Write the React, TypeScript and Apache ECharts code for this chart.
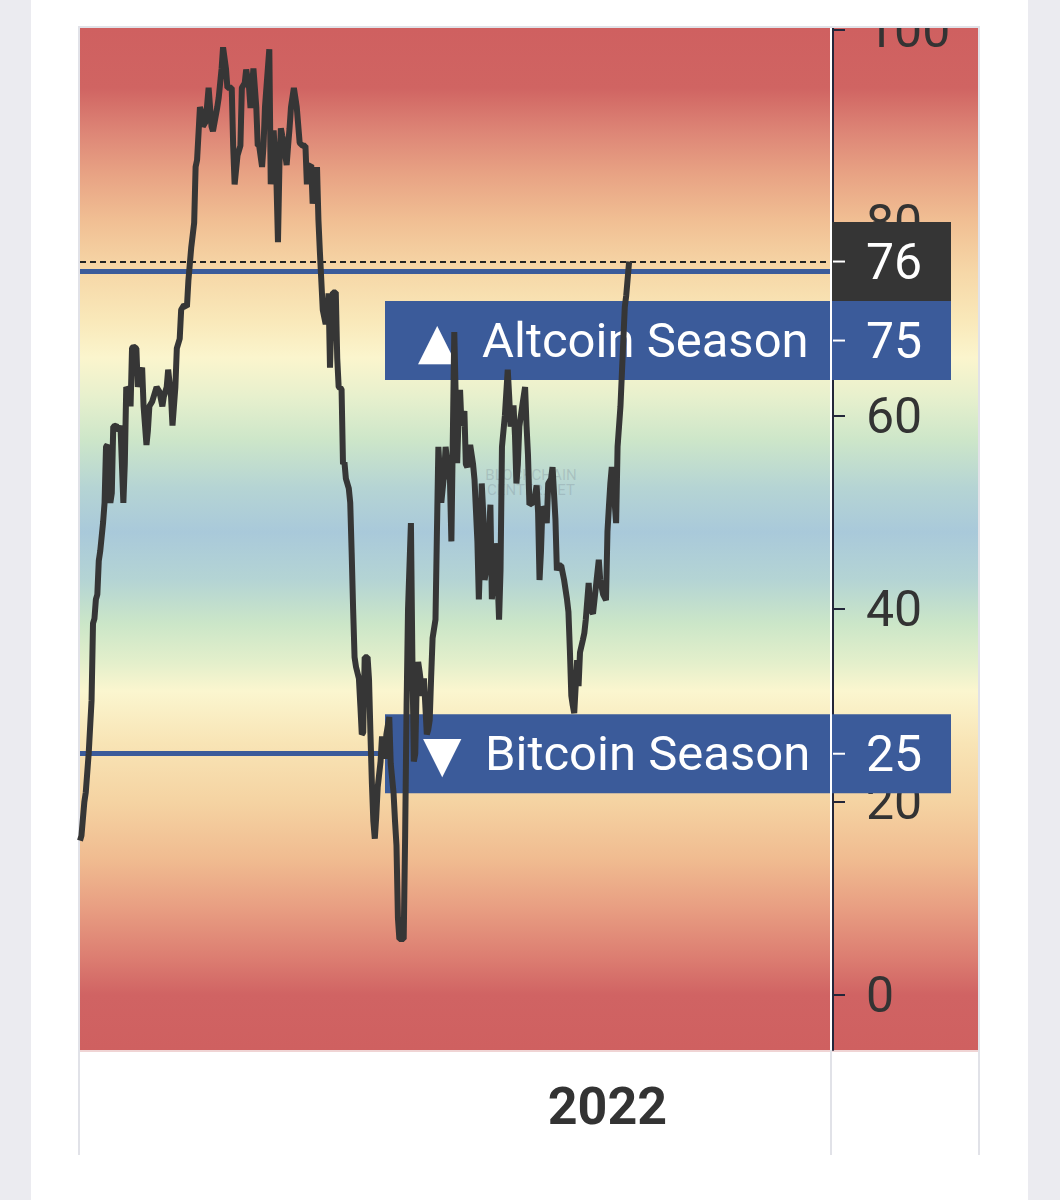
import React, { useEffect, useRef } from "react";
import * as echarts from "echarts";

// ---------- DATA ----------
// Day offsets are counted from 2021-01-01.
const START_DATE = Date.UTC(2021, 0, 1);
const DAY_MS = 86400000;
const AXIS_SPAN_DAYS = 519;

// Altcoin Season Index: [day offset, value]
const altSeasonIndex: [number, number][] = [
  [0, 16], [1, 16.5], [3, 20], [4, 21], [6, 25], [8, 30.5], [9, 38.5], [10, 39], [11, 41], [12, 41.5],
  [13, 45], [14, 46], [16, 49], [17, 51], [18, 56.8], [19, 57], [21, 51], [22, 52], [23, 58.9], [25, 59],
  [27, 58.5], [28, 59], [30, 51], [31, 55], [32, 63], [34, 62.5], [35, 61], [36, 67], [37, 67.2], [39, 67],
  [40, 63], [41, 64], [43, 65], [44, 61], [46, 57], [47, 58.5], [48, 61], [50, 61.5], [53, 63], [55, 62.5],
  [57, 61], [58, 62], [60, 63], [61, 64.8], [63, 62], [64, 59], [66, 63], [67, 67], [69, 68], [70, 71],
  [72, 71.5], [74, 71.3], [75, 74], [77, 77.5], [79, 80], [80, 85.8], [81, 86.5], [83, 92], [84, 91.5], [85, 90],
  [87, 90.5], [89, 94], [91, 90], [92, 89.5], [95, 92], [96, 93], [98, 96], [99, 98.2], [101, 96], [102, 94],
  [105, 94], [106, 88], [107, 84], [109, 87], [111, 88], [112, 94], [114, 94.5], [115, 95.9], [117, 94], [118, 91.9],
  [119, 94], [120, 96], [122, 92], [123, 88], [124, 88], [126, 85.8], [127, 88], [128, 92], [129, 94], [131, 98],
  [132, 84], [133, 87], [134, 89.6], [136, 84], [137, 78], [138, 86], [139, 89.8], [140, 89], [141, 88.3], [143, 86],
  [144, 88], [145, 89.8], [146, 92], [148, 94], [149, 93], [150, 92], [152, 88.3], [154, 88], [156, 88], [157, 84],
  [158, 85.8], [160, 86], [161, 82], [163, 84], [164, 85.8], [165, 80.3], [166, 77], [167, 74], [168, 71], [170, 69.5],
  [171, 70.5], [172, 72.7], [173, 65], [174, 70], [175, 72.8], [177, 72.8], [178, 66], [179, 63], [181, 62.8], [182, 55],
  [183, 55.2], [184, 53.5], [186, 52.5], [187, 51], [188, 45.8], [189, 40], [190, 35], [191, 34], [193, 32.8], [194, 30],
  [195, 27], [196, 27.2], [197, 35], [199, 35], [200, 32.7], [201, 27], [202, 21.9], [203, 18], [204, 16.2], [205, 18.5],
  [206, 21.5], [208, 24.2], [209, 26.8], [211, 24.5], [212, 27], [214, 28.8], [215, 24], [217, 20.9], [218, 18], [219, 15.5],
  [220, 8], [221, 5.8], [224, 5.8], [225, 16.5], [226, 30], [227, 40], [229, 48.9], [230, 35], [231, 24.2], [232, 25],
  [233, 32.2], [234, 34.5], [235, 33.5], [237, 31], [238, 32.8], [240, 27], [241, 27.5], [242, 28.5], [243, 33], [244, 37],
  [246, 38.9], [247, 48], [248, 56.8], [249, 54], [250, 51], [252, 54], [253, 56.8], [255, 54], [256, 53.4], [257, 47],
  [259, 68.7], [260, 62], [261, 55.1], [262, 60], [263, 62.7], [264, 59], [266, 60.5], [267, 55], [268, 54.7], [269, 56],
  [270, 57], [272, 55], [273, 53.4], [275, 47], [276, 41], [277, 46], [278, 53], [279, 50], [280, 43], [282, 45],
  [283, 48], [284, 50.8], [285, 41], [286, 43], [287, 46.8], [289, 43], [290, 38.9], [291, 44], [292, 56.8], [294, 60],
  [296, 64.8], [297, 62], [298, 58.9], [299, 60], [300, 61.1], [301, 58], [302, 53], [303, 55], [304, 58.9], [306, 61],
  [308, 63], [309, 59], [310, 56], [311, 50.8], [313, 51], [314, 51], [316, 52.8], [317, 50], [318, 43], [319, 46],
  [320, 50.6], [322, 50], [323, 48.9], [324, 53], [326, 53.5], [327, 54.7], [329, 49.3], [330, 44], [331, 44.5], [333, 44.5],
  [335, 43], [337, 41], [338, 39.7], [339, 35.7], [340, 31], [341, 30], [342, 29.2], [344, 34.7], [345, 32], [346, 35.5],
  [348, 36.8], [349, 37.5], [350, 38.9], [352, 42.7], [353, 40], [355, 39.5], [356, 40.9], [359, 45.1], [360, 43], [362, 41.5],
  [364, 40.9], [365, 48], [366, 50.6], [367, 53], [368, 54.7], [370, 51], [371, 48.9], [372, 56.8], [374, 61], [376, 67.9],
  [377, 71.3], [378, 72.5], [380, 76],
];

const yTickLabels = [0, 20, 40, 60, 80, 100];
const Y_MIN = -5.7;
const Y_MAX = 100.2;
const ALTCOIN_LEVEL = 75;
const BITCOIN_LEVEL = 25;
const ALTCOIN_LABEL = "Altcoin Season";
const BITCOIN_LABEL = "Bitcoin Season";
const UP_MARK = "▲";
const DOWN_MARK = "▼";
const WATERMARK = "BLOCKCHAIN\nCENTER.NET";

// background colour bands by index value
const bgStops: [number, string][] = [
  [100.2, "#cf6060"],
  [94, "#d06462"],
  [89.5, "#dd8576"],
  [85, "#e8a384"],
  [80, "#f1c094"],
  [75, "#f6d7a7"],
  [70, "#f9e8b9"],
  [66, "#fbf5cd"],
  [62, "#e7f0cd"],
  [57.5, "#cde6c9"],
  [52.5, "#b5d4d4"],
  [48, "#a9c9da"],
  [43, "#b4d4d4"],
  [38.5, "#cbe6c8"],
  [34.5, "#e3efcb"],
  [31.5, "#fbf6cf"],
  [26, "#f8e4b5"],
  [20, "#f5d3a2"],
  [14, "#f0bb90"],
  [9, "#e89e82"],
  [3.5, "#db7b70"],
  [0, "#d06363"],
  [-5.7, "#cf6060"],
];

const FONT = "Roboto, 'DejaVu Sans', sans-serif";

export default function App() {
  const ref = useRef<HTMLDivElement>(null);

  useEffect(() => {
    const el = ref.current;
    if (!el) return;
    const chart = echarts.init(el, null, { renderer: "svg", width: 1060, height: 1200 });

    const GL = 80;
    const GR = 830;
    const GT = 28;
    const GB = 1050;
    const PANE_R = 979;
    const AXIS_X = 833;

    const lineData = altSeasonIndex.map(([d, v]) => [START_DATE + d * DAY_MS, v]);
    const lastValue = altSeasonIndex[altSeasonIndex.length - 1][1];

    chart.setOption({
      animation: false,
      backgroundColor: "#ebebf0",
      grid: { left: GL, right: 1060 - GR, top: GT, bottom: 1200 - GB, containLabel: false },
      xAxis: {
        type: "time",
        min: START_DATE,
        max: START_DATE + AXIS_SPAN_DAYS * DAY_MS,
        axisLine: { show: false },
        axisTick: { show: false },
        splitLine: { show: false },
        axisLabel: {
          showMinLabel: false,
          showMaxLabel: false,
          hideOverlap: false,
          formatter: (v: number) => {
            const d = new Date(v);
            return d.getMonth() === 0 && d.getDate() === 1 && d.getFullYear() === 2022
              ? String(d.getFullYear())
              : "";
          },
          color: "#333333",
          fontSize: 52,
          fontWeight: "bold",
          fontFamily: FONT,
          margin: 30,
        },
      },
      yAxis: {
        type: "value",
        position: "right",
        offset: AXIS_X - GR,
        min: Y_MIN,
        max: Y_MAX,
        splitNumber: 5,
        splitLine: { show: false },
        axisLine: { show: true, lineStyle: { color: "#23263a", width: 2 } },
        axisTick: {
          show: true,
          length: 12,
          customValues: yTickLabels,
          lineStyle: { color: "#23263a", width: 2 },
        },
        axisLabel: {
          customValues: yTickLabels,
          formatter: (v: number) => (yTickLabels.includes(v) ? String(v) : ""),
          margin: 33,
          color: "#333333",
          fontSize: 50,
          fontFamily: FONT,
        },
      },
      series: [
        {
          type: "line",
          data: lineData,
          symbol: "none",
          showSymbol: false,
          z: 2,
          lineStyle: { color: "#363636", width: 6 },
          markLine: {
            silent: true,
            symbol: "none",
            z: 0,
            label: { show: false },
            data: [
              { yAxis: ALTCOIN_LEVEL, lineStyle: { color: "#3b5b9a", width: 5, type: "solid" } },
              { yAxis: BITCOIN_LEVEL, lineStyle: { color: "#3b5b9a", width: 5, type: "solid" } },
              { yAxis: lastValue, lineStyle: { color: "#222222", width: 2, type: [6, 4] } },
            ],
          },
        },
      ],
    });

    const py = (v: number) => chart.convertToPixel({ yAxisIndex: 0 }, v) as number;
    const BOX_H = 79;
    const BLUE = "#3b5b9a";
    const DARK = "#353535";
    const LABEL_L = 385;
    const BOX_R = 951;
    const VALUE_TEXT_X = 866;

    const yLast = py(lastValue);
    const topLast = yLast - BOX_H / 2;
    let topAlt = py(ALTCOIN_LEVEL) - BOX_H / 2;
    if (topAlt < topLast + BOX_H) topAlt = topLast + BOX_H;
    const topBtc = py(BITCOIN_LEVEL) - BOX_H / 2;

    const span = Y_MAX - Y_MIN;
    const gradient = new echarts.graphic.LinearGradient(
      0, 0, 0, 1,
      bgStops.map(([v, c]) => ({ offset: Math.min(1, Math.max(0, (Y_MAX - v) / span)), color: c }))
    );

    const valueBox = (top: number, fill: string, text: string) => [
      { type: "rect", shape: { x: AXIS_X - 1, y: top, width: BOX_R - AXIS_X + 1, height: BOX_H }, style: { fill }, z: 1, silent: true },
      { type: "line", shape: { x1: AXIS_X, y1: top + BOX_H / 2, x2: AXIS_X + 12, y2: top + BOX_H / 2 }, style: { stroke: "#ffffff", lineWidth: 2 }, z: 1, silent: true },
      { type: "text", x: VALUE_TEXT_X, y: top + BOX_H / 2, style: { text, fill: "#ffffff", fontSize: 50, fontFamily: FONT, align: "left", verticalAlign: "middle" }, z: 1, silent: true },
    ];

    const seasonBox = (top: number, mark: string, markX: number, label: string, labelX: number) => [
      { type: "rect", shape: { x: LABEL_L, y: top, width: GR - LABEL_L, height: BOX_H }, style: { fill: BLUE }, z: 1, silent: true },
      { type: "text", x: markX, y: top + BOX_H / 2, style: { text: mark, fill: "#ffffff", fontSize: 50, fontFamily: "'DejaVu Sans', sans-serif", align: "left", verticalAlign: "middle" }, z: 1, silent: true },
      { type: "text", x: labelX, y: top + BOX_H / 2, style: { text: label, fill: "#ffffff", fontSize: 49, fontFamily: FONT, align: "left", verticalAlign: "middle" }, z: 1, silent: true },
    ];

    const borderStyle = { stroke: "#e1e2e8", lineWidth: 2 };

    chart.setOption({
      graphic: {
        elements: [
          { type: "rect", shape: { x: 31, y: 0, width: 997, height: 1200 }, style: { fill: "#ffffff" }, z: -20, silent: true },
          { type: "rect", shape: { x: GL, y: GT, width: PANE_R - GL, height: GB - GT }, style: { fill: gradient }, z: -10, silent: true },
          { type: "rect", shape: { x: GR, y: GT, width: 2, height: GB - GT }, style: { fill: "#ffffff" }, z: -9, silent: true },
          { type: "line", shape: { x1: GL, y1: GB + 1, x2: PANE_R, y2: GB + 1 }, style: { stroke: "#f0d4d4", lineWidth: 2 }, z: -8, silent: true },
          { type: "line", shape: { x1: GL - 1, y1: GT - 1, x2: GL - 1, y2: 1155 }, style: borderStyle, z: -8, silent: true },
          { type: "line", shape: { x1: GR + 1, y1: GB, x2: GR + 1, y2: 1155 }, style: borderStyle, z: -8, silent: true },
          { type: "line", shape: { x1: PANE_R, y1: GT - 1, x2: PANE_R, y2: 1155 }, style: borderStyle, z: -8, silent: true },
          {
            type: "text", x: 531, y: 482,
            style: { text: WATERMARK, fill: "rgba(110,120,135,0.25)", fontSize: 15, lineHeight: 15, fontFamily: FONT, align: "center", verticalAlign: "middle" },
            z: -7, silent: true,
          },
          ...seasonBox(topAlt, UP_MARK, 418, ALTCOIN_LABEL, 482),
          ...seasonBox(topBtc, DOWN_MARK, 423, BITCOIN_LABEL, 485),
          ...valueBox(topLast, DARK, String(lastValue)),
          ...valueBox(topAlt, BLUE, String(ALTCOIN_LEVEL)),
          ...valueBox(topBtc, BLUE, String(BITCOIN_LEVEL)),
          { type: "rect", shape: { x: 31, y: 0, width: 997, height: GT - 1.5 }, style: { fill: "#ffffff" }, z: 50, silent: true },
          { type: "line", shape: { x1: GL - 2, y1: GT - 1, x2: PANE_R + 1, y2: GT - 1 }, style: borderStyle, z: 51, silent: true },
        ],
      },
    });

    return () => chart.dispose();
  }, []);

  return (
    <div
      ref={ref}
      style={{ position: "absolute", left: 0, top: 0, width: 1060, height: 1200 }}
    />
  );
}
